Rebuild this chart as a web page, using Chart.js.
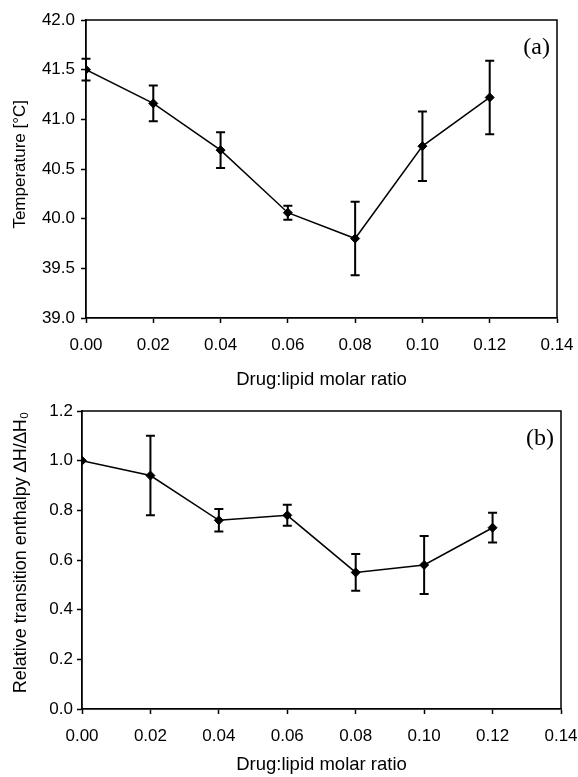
<!DOCTYPE html>
<html>
<head>
<meta charset="utf-8">
<script src="https://cdn.jsdelivr.net/npm/chart.js@4/dist/chart.umd.min.js"></script>
<style>
  body { margin: 0; background: #fff; }
  canvas { position: absolute; left: 0; }
  #chartA { top: 0; }
  #chartB { top: 395px; }
</style>
</head>
<body>
<canvas id="chartA" width="578" height="395"></canvas>
<canvas id="chartB" width="578" height="382"></canvas>
<script>
// DATA

const ratios = [0, 0.02, 0.04, 0.06, 0.08, 0.10, 0.12];
const xTicks = [0, 0.02, 0.04, 0.06, 0.08, 0.10, 0.12, 0.14];

const tempValues = [41.50, 41.16, 40.69, 40.06, 39.80, 40.73, 41.22];
const tempErrors = [0.11, 0.18, 0.18, 0.07, 0.37, 0.35, 0.37];
const tempTicks = [39.0, 39.5, 40.0, 40.5, 41.0, 41.5, 42.0];

const enthValues = [1.00, 0.94, 0.76, 0.78, 0.55, 0.58, 0.73];
const enthErrors = [0, 0.16, 0.045, 0.042, 0.074, 0.117, 0.06];
const enthTicks = [0.0, 0.2, 0.4, 0.6, 0.8, 1.0, 1.2];

const SANS = "'Liberation Sans', Arial, sans-serif";


// ERROR BARS + BOX + PANEL LABEL

const extrasPlugin = {
  id: "extras",
  afterDatasetsDraw(chart, args, opts) {
    const ctx = chart.ctx;
    const xs = chart.scales.x;
    const ys = chart.scales.y;
    const area = chart.chartArea;

    ctx.save();
    ctx.strokeStyle = "#000";
    ctx.lineWidth = 2;
    opts.values.forEach((v, i) => {
      const e = opts.errors[i];
      if (!e) return;
      const px = xs.getPixelForValue(ratios[i]);
      const top = ys.getPixelForValue(v + e);
      const bot = ys.getPixelForValue(v - e);
      ctx.beginPath();
      ctx.moveTo(px, top);
      ctx.lineTo(px, bot);
      ctx.moveTo(px - 4.5, top);
      ctx.lineTo(px + 4.5, top);
      ctx.moveTo(px - 4.5, bot);
      ctx.lineTo(px + 4.5, bot);
      ctx.stroke();
    });

    // box round the plot
    ctx.lineWidth = 1.5;
    ctx.beginPath();
    ctx.moveTo(area.left, area.top);
    ctx.lineTo(area.right, area.top);
    ctx.lineTo(area.right, area.bottom);
    ctx.stroke();

    // panel label
    ctx.fillStyle = "#000";
    ctx.font = "24px 'Liberation Serif', 'Times New Roman', serif";
    ctx.textAlign = "right";
    ctx.textBaseline = "middle";
    ctx.fillText(opts.label, area.right - 7, area.top + 28);
    ctx.restore();
  }
};


function makeChart(id, cfg) {
  return new Chart(document.getElementById(id), {
    type: "line",
    data: {
      datasets: [
        {
          data: ratios.map((r, i) => ({ x: r, y: cfg.values[i] })),
          borderColor: "#000",
          borderWidth: 1.5,
          pointStyle: "rectRot",
          pointRadius: 4.5,
          pointBackgroundColor: "#000",
          pointBorderColor: "#000",
          pointBorderWidth: 1,
          tension: 0
        }
      ]
    },
    options: {
      responsive: false,
      animation: false,
      events: [],
      layout: {
        padding: { top: cfg.padTop, right: cfg.padRight, left: 0, bottom: 0 }
      },
      plugins: {
        legend: { display: false },
        tooltip: { enabled: false },
        extras: { values: cfg.values, errors: cfg.errors, label: cfg.label }
      },
      scales: {
        x: {
          type: "linear",
          min: 0,
          max: 0.14,
          afterBuildTicks: s => { s.ticks = xTicks.map(v => ({ value: v })); },
          afterFit: s => {
            s.height = cfg.xHeight;
            s.paddingLeft = 0;
            s.paddingRight = 0;
          },
          border: { display: true, color: "#000", width: 1.8 },
          grid: { drawOnChartArea: false, drawTicks: true, tickLength: 5, tickColor: "#000", tickWidth: 1.5 },
          ticks: {
            color: "#000",
            padding: 12,
            maxRotation: 0,
            autoSkip: false,
            font: { family: SANS, size: 17 },
            callback: v => v.toFixed(2)
          },
          title: {
            display: true,
            text: "Drug:lipid molar ratio",
            color: "#000",
            font: { family: SANS, size: 18.5 },
            padding: { top: 0, bottom: cfg.xTitlePad }
          }
        },
        y: {
          type: "linear",
          min: cfg.yTicks[0],
          max: cfg.yTicks[cfg.yTicks.length - 1],
          afterBuildTicks: s => { s.ticks = cfg.yTicks.map(v => ({ value: v })); },
          afterFit: s => {
            s.width = cfg.yWidth;
            s.paddingTop = 0;
            s.paddingBottom = 0;
          },
          border: { display: true, color: "#000", width: 1.8 },
          grid: { drawOnChartArea: false, drawTicks: true, tickLength: 5, tickColor: "#000", tickWidth: 1.5 },
          ticks: {
            color: "#000",
            padding: cfg.yTickPad,
            autoSkip: false,
            font: { family: SANS, size: 17 },
            callback: v => v.toFixed(1)
          },
          title: {
            display: true,
            text: cfg.yTitle,
            color: "#000",
            font: { family: SANS, size: cfg.yTitleSize },
            padding: { top: 10, bottom: 0 }
          }
        }
      }
    },
    plugins: [extrasPlugin]
  });
}


// TOP CHART (a)

makeChart("chartA", {
  values: tempValues,
  errors: tempErrors,
  yTicks: tempTicks,
  yTitle: "  Temperature [°C]",
  yTitleSize: 17,
  label: "(a)",
  padTop: 20,
  padRight: 21,
  xHeight: 77,
  yWidth: 86,
  yTickPad: 6,
  xTitlePad: 4
});


// BOTTOM CHART (b)

makeChart("chartB", {
  values: enthValues,
  errors: enthErrors,
  yTicks: enthTicks,
  yTitle: "   Relative transition enthalpy \u2206H/\u2206H\u2080",
  yTitleSize: 18,
  label: "(b)",
  padTop: 16,
  padRight: 17,
  xHeight: 68,
  yWidth: 82,
  yTickPad: 4,
  xTitlePad: 1
});
</script>
</body>
</html>
